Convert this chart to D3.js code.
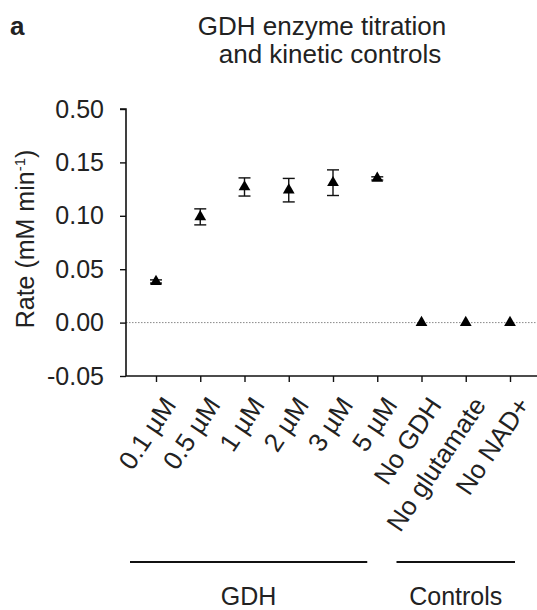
<!DOCTYPE html>
<html><head><meta charset="utf-8">
<script src="https://cdn.jsdelivr.net/npm/d3@7"></script>
<style>
html,body{margin:0;padding:0;background:#fff;}
text{font-family:"Liberation Sans",Arial,Helvetica,sans-serif;fill:#222;}
</style></head>
<body><svg id="c" width="537" height="610"></svg>
<script>
const categories = ["0.1 \u00b5M","0.5 \u00b5M","1 \u00b5M","2 \u00b5M","3 \u00b5M","5 \u00b5M","No GDH","No glutamate","No NAD+"];
const rates = [0.0385, 0.099, 0.127, 0.124, 0.131, 0.135, 0, 0, 0];
const errors = [0.0015, 0.0075, 0.0085, 0.011, 0.012, 0.0015, 0, 0, 0];
const yTicks = [-0.05, 0.00, 0.05, 0.10, 0.15, 0.50];
const yTickLabels = ["-0.05","0.00","0.05","0.10","0.15","0.50"];
const groups = [{name:"GDH", from:"0.1 \u00b5M", to:"5 \u00b5M"},{name:"Controls", from:"No GDH", to:"No NAD+"}];

const svg = d3.select("#c");
const axX = 126, axBottom = 376, step = 53.4;
const y = d3.scaleLinear().domain([-0.05, 0.15, 0.50]).range([axBottom, axBottom - 4*step, axBottom - 5*step]);
const x = d3.scalePoint().domain(categories).range([156, 510]);

// title
svg.append("text").attr("x",10).attr("y",35).style("font-size","26px").style("font-weight","bold").text("a");
svg.append("text").attr("x",322).attr("y",35).attr("text-anchor","middle").style("font-size","26px").text("GDH enzyme titration");
svg.append("text").attr("x",330).attr("y",63).attr("text-anchor","middle").style("font-size","26px").text("and kinetic controls");

// zero dotted line
svg.append("line").attr("x1",axX).attr("x2",537).attr("y1",y(0)).attr("y2",y(0))
  .attr("stroke","#888").attr("stroke-width",1).attr("stroke-dasharray","1.5,1.5");

// y axis
const ya = svg.append("g").attr("transform",`translate(${axX},0)`)
  .call(d3.axisLeft(y).tickValues(yTicks).tickFormat((d,i)=>yTickLabels[i]).tickSize(6).tickPadding(16));
ya.select(".domain").attr("stroke","#111").attr("stroke-width",1.6).attr("d",`M-6,${y(0.5)}H0V${axBottom}`);
ya.selectAll(".tick line").attr("stroke","#111").attr("stroke-width",1.4);
ya.selectAll(".tick text").style("font-size","25px").style("font-family","Liberation Sans, Arial, sans-serif").attr("fill","#222");

// x axis
const xa = svg.append("g").attr("transform",`translate(0,${axBottom})`)
  .call(d3.axisBottom(x).tickSize(6).tickFormat(""));
xa.select(".domain").attr("stroke","#111").attr("stroke-width",1.6).attr("d",`M${axX},0H537`);
xa.selectAll(".tick line").attr("stroke","#111").attr("stroke-width",1.4);
xa.selectAll(".tick").append("text")
  .attr("transform","translate(13,24) rotate(-56)")
  .attr("text-anchor","end").attr("dy","0.35em")
  .style("font-size","26px").attr("fill","#222")
  .text(d=>d);

// y label
const yl = svg.append("text").attr("transform",`translate(34,${239}) rotate(-90)`).attr("text-anchor","middle").style("font-size","25px");
yl.append("tspan").text("Rate (mM min");
yl.append("tspan").attr("dy",-9).style("font-size","15px").text("-1");
yl.append("tspan").attr("dy",9).text(")");

// error bars
const data = categories.map((c,i)=>({c, v:rates[i], e:errors[i]}));
const eb = svg.append("g").attr("stroke","#111").attr("stroke-width",1.4);
data.filter(d=>d.e>0).forEach(d=>{
  const cx = x(d.c);
  eb.append("line").attr("x1",cx).attr("x2",cx).attr("y1",y(d.v+d.e)).attr("y2",y(d.v-d.e));
  [d.v+d.e, d.v-d.e].forEach(v=>eb.append("line").attr("x1",cx-6).attr("x2",cx+6).attr("y1",y(v)).attr("y2",y(v)));
});
// markers
svg.append("g").selectAll("path").data(data).join("path")
  .attr("transform",d=>`translate(${x(d.c)},${y(d.v)})`)
  .attr("d",d3.symbol(d3.symbolTriangle, 60)).attr("fill","#000");

// group brackets
groups.forEach((g,i)=>{
  const x1 = x(g.from) - (i===0?26:25), x2 = x(g.to) + (i===0?-10:5);
  svg.append("line").attr("x1",x1).attr("x2",x2).attr("y1",562).attr("y2",562).attr("stroke","#111").attr("stroke-width",2.2);
  svg.append("text").attr("x",(x1+x2)/2).attr("y",605).attr("text-anchor","middle").style("font-size","25px").text(g.name);
});
</script></body></html>
